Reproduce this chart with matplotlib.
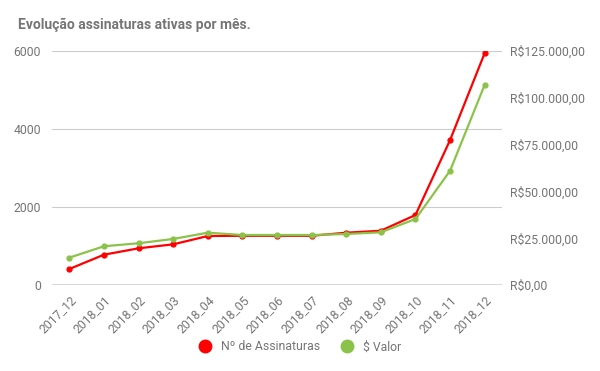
import matplotlib.pyplot as plt
from matplotlib.ticker import FuncFormatter
from matplotlib.lines import Line2D

MONTHS = ['2017_12', '2018_01', '2018_02', '2018_03', '2018_04', '2018_05', '2018_06',
          '2018_07', '2018_08', '2018_09', '2018_10', '2018_11', '2018_12']
ASSINATURAS = [410, 777, 941, 1043, 1256, 1262, 1262, 1262, 1341, 1392, 1795, 3718, 5949]
VALOR = [14600, 20700, 22300, 24600, 27950, 26700, 26700, 26700, 27240, 28150, 35250, 61060, 107000]
LEFT_TICKS = [0, 2000, 4000, 6000]
RIGHT_TICKS = [0, 25000, 50000, 75000, 100000, 125000]

RED = '#ff0000'
GREEN = '#8bc34a'
GRAY = '#757575'

plt.rcParams['font.family'] = ['Roboto', 'DejaVu Sans']


def brl(v, pos=None):
    s = f'{v:,.2f}'.replace(',', 'X').replace('.', ',').replace('X', '.')
    return 'R$' + s


def main():
    fig = plt.figure(figsize=(6, 3.71), dpi=100)
    ax = fig.add_axes([0.0867, 0.2318, 0.75, 0.6307])
    ax2 = ax.twinx()

    x = list(range(len(MONTHS)))
    ax.plot(x, ASSINATURAS, color=RED, lw=1.6, marker='o', ms=3.5, zorder=3,
            label='Nº de Assinaturas')
    ax2.plot(x, VALOR, color=GREEN, lw=1.6, marker='o', ms=3.5, zorder=3,
             label='$ Valor')

    ax.set_xlim(-0.5, len(MONTHS) - 0.5)
    ax.set_ylim(0, 6000)
    ax2.set_ylim(0, 125000)
    ax.set_yticks(LEFT_TICKS)
    ax2.set_yticks(RIGHT_TICKS)
    ax2.yaxis.set_major_formatter(FuncFormatter(brl))

    ax.set_xticks(x)
    ax.set_xticklabels(MONTHS, rotation=45, ha='right', rotation_mode='anchor')

    for a in (ax, ax2):
        for s in a.spines.values():
            s.set_visible(False)
        a.tick_params(length=0, colors=GRAY, labelsize=8.8)
    ax.tick_params(axis='y', pad=8)
    ax2.tick_params(axis='y', pad=6)
    ax.tick_params(axis='x', pad=6)

    for t in LEFT_TICKS[1:]:
        ax.axhline(t, color='#cccccc', lw=0.8, zorder=0)
    ax.axhline(0, color='#333333', lw=1.0, zorder=1)

    fig.text(0.03, 0.922, 'Evolução assinaturas ativas por mês.', fontsize=10,
             fontweight='bold', color=GRAY)

    labels = [ax.get_legend_handles_labels()[1][0], ax2.get_legend_handles_labels()[1][0]]
    handles = [Line2D([], [], color=RED, marker='o', ls='none', ms=9),
               Line2D([], [], color=GREEN, marker='o', ls='none', ms=9)]
    fig.legend(handles, labels, loc='center', bbox_to_anchor=(0.495, 0.065), ncol=2,
               frameon=False, fontsize=8.8, labelcolor=GRAY, handletextpad=0.3,
               columnspacing=1.2)

    fig.savefig('out.png', dpi=100)


if __name__ == '__main__':
    main()
